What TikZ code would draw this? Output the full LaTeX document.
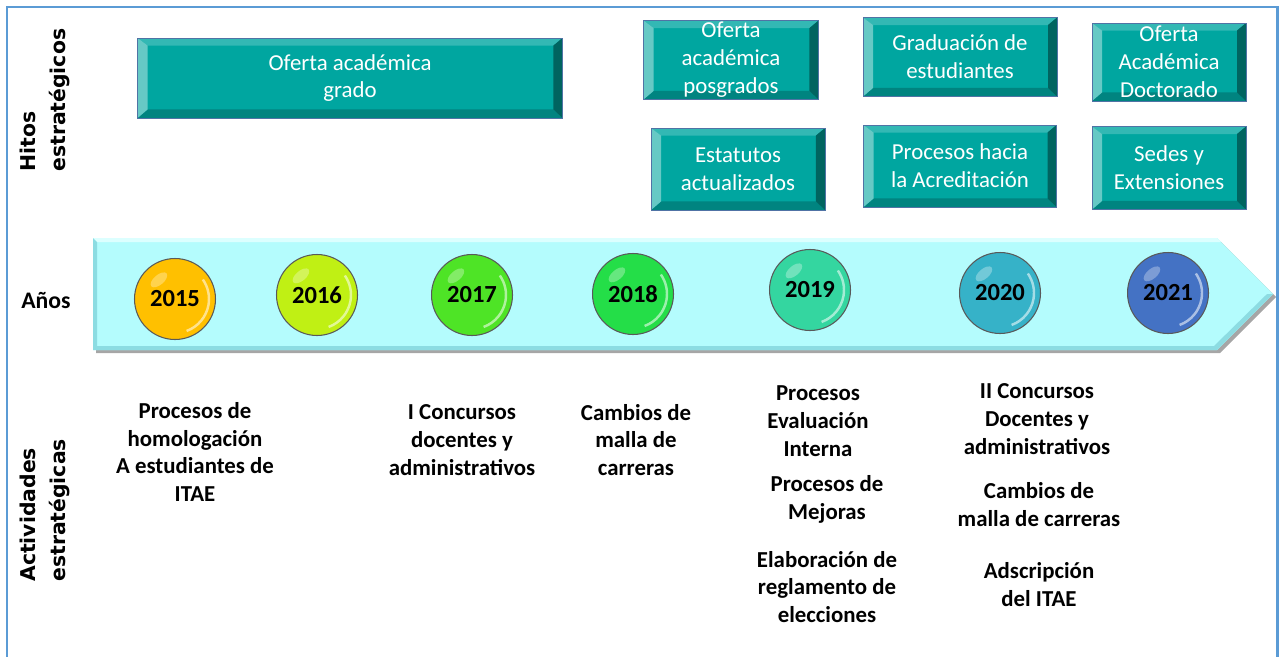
\documentclass[tikz,border=0pt]{standalone}
\usepackage{fontspec}
\setmainfont{Carlito}
\newfontfamily\rotfont{DejaVu Sans}
\usepackage{xcolor}
\definecolor{marco}{RGB}{91,155,213}
\definecolor{teal1}{RGB}{0,166,160}
\definecolor{tealtop}{RGB}{51,184,180}
\definecolor{tealleft}{RGB}{102,201,197}
\definecolor{tealright}{RGB}{0,100,96}
\definecolor{tealbot}{RGB}{0,132,128}
\definecolor{tealedge}{RGB}{80,115,165}
\definecolor{banda}{RGB}{180,252,253}
\definecolor{bandatop}{RGB}{220,255,255}
\definecolor{bandabot}{RGB}{140,220,226}
\definecolor{c2015}{RGB}{255,192,0}
\definecolor{c2016}{RGB}{192,240,20}
\definecolor{c2017}{RGB}{78,228,38}
\definecolor{c2018}{RGB}{36,222,72}
\definecolor{c2019}{RGB}{52,214,160}
\definecolor{c2020}{RGB}{54,178,200}
\definecolor{c2021}{RGB}{68,114,196}

\tikzset{
  hito/.style={draw=tealedge, line width=0.5pt, fill=teal1, text=white, align=center,
    inner sep=0pt, font=\fontsize{13}{15.9}\selectfont,
    path picture={
      \fill[tealtop] (path picture bounding box.north west) -- (path picture bounding box.north east)
        -- ([xshift=-0.18cm,yshift=-0.15cm]path picture bounding box.north east)
        -- ([xshift=0.2cm,yshift=-0.15cm]path picture bounding box.north west) -- cycle;
      \fill[tealbot] (path picture bounding box.south west) -- (path picture bounding box.south east)
        -- ([xshift=-0.18cm,yshift=0.17cm]path picture bounding box.south east)
        -- ([xshift=0.2cm,yshift=0.17cm]path picture bounding box.south west) -- cycle;
      \fill[tealleft] (path picture bounding box.north west) -- (path picture bounding box.south west)
        -- ([xshift=0.2cm,yshift=0.17cm]path picture bounding box.south west)
        -- ([xshift=0.2cm,yshift=-0.15cm]path picture bounding box.north west) -- cycle;
      \fill[tealright] (path picture bounding box.north east) -- (path picture bounding box.south east)
        -- ([xshift=-0.18cm,yshift=0.17cm]path picture bounding box.south east)
        -- ([xshift=-0.18cm,yshift=-0.15cm]path picture bounding box.north east) -- cycle;
    }},
  anio/.style={circle, draw=black!65, line width=0.6pt, minimum size=1.62cm, inner sep=0pt,
    font=\fontsize{14}{16}\selectfont\bfseries,
    path picture={
      \draw[white, opacity=.55, line width=1.4pt]
        ([shift={(-70:0.68cm)}]path picture bounding box.center) arc[start angle=-70, end angle=35, radius=0.68cm];
      \fill[white, opacity=.3] ([shift={(130:0.5cm)}]path picture bounding box.center)
        ellipse[x radius=0.2cm, y radius=0.1cm, rotate=40];
    }},
  act/.style={align=center, inner sep=0pt, font=\fontsize{13}{15.9}\selectfont\bfseries},
  eje/.style={rotate=90, anchor=west, align=left, inner sep=0pt,
    font=\rotfont\bfseries\fontsize{11.6}{17}\selectfont},
}

\begin{document}
\begin{tikzpicture}[x=0.02cm, y=-0.02cm]
\useasboundingbox (0,0) rectangle (1280,656);
\draw[marco, line width=1.7pt] (7,7) rectangle (1277,720);

% banda de tiempo
\fill[black!35] (96,241) -- (1220,241) -- (1276,297) -- (1220,353) -- (96,353) -- cycle;
\fill[banda] (93,238) -- (1217,238) -- (1273,294) -- (1217,350) -- (93,350) -- cycle;
\fill[bandatop] (93,238) -- (1217,238) -- (1221,242) -- (97,242) -- cycle;
\fill[bandabot] (93,350) -- (1217,350) -- (1273,294) -- (1267,294) -- (1214,346) -- (97,346) -- (97,242) -- (93,238) -- cycle;

% etiquetas laterales
\node[eje] (hitos) at (45,172) {Hitos\\estratégicos};
\node[font=\fontsize{13.5}{16}\selectfont\bfseries] (anos) at (46,300) {Años};
\node[eje] (activ) at (45,582) {Actividades\\estratégicas};

% años
\node[anio, fill=c2015] (a15) at (175,299) {2015};
\node[anio, fill=c2016] (a16) at (317,295) {2016};
\node[anio, fill=c2017] (a17) at (472,295) {2017};
\node[anio, fill=c2018] (a18) at (633,294) {2018};
\node[anio, fill=c2019] (a19) at (810,290) {2019};
\node[anio, fill=c2020] (a20) at (1000,293) {2020};
\node[anio, fill=c2021] (a21) at (1168,293) {2021};

% hitos
\node[hito, minimum width=8.5cm, minimum height=1.6cm] (h1) at (350,78) {Oferta académica\\grado};
\node[hito, minimum width=3.5cm, minimum height=1.58cm] (h2) at (731,60) {Oferta\\académica\\posgrados};
\node[hito, minimum width=3.88cm, minimum height=1.58cm] (h3) at (960,57) {Graduación de\\estudiantes};
\node[hito, minimum width=3.08cm, minimum height=1.56cm] (h4) at (1169,62) {Oferta\\Académica\\Doctorado};
\node[hito, minimum width=3.48cm, minimum height=1.64cm] (h5) at (738,169) {Estatutos\\actualizados};
\node[hito, minimum width=3.86cm, minimum height=1.64cm] (h6) at (960,166) {Procesos hacia\\la Acreditación};
\node[hito, minimum width=3.08cm, minimum height=1.66cm] (h7) at (1169,168) {Sedes y\\Extensiones};

% actividades
\node[act] (p1) at (195,452) {Procesos de\\homologación\\A estudiantes de\\ITAE};
\node[act] (p2) at (462,440) {I Concursos\\docentes y\\administrativos};
\node[act] (p3) at (636,440) {Cambios de\\malla de\\carreras};
\node[act] (p4) at (818,421) {Procesos\\Evaluación\\Interna};
\node[act] (p5) at (827,499) {Procesos de\\Mejoras};
\node[act] (p6) at (827,587) {Elaboración de\\reglamento de\\elecciones};
\node[act] (p7) at (1037,419) {II Concursos\\Docentes y\\administrativos};
\node[act] (p8) at (1039,505) {Cambios de\\malla de carreras};
\node[act] (p9) at (1039,585) {Adscripción\\del ITAE};
\end{tikzpicture}
\end{document}
